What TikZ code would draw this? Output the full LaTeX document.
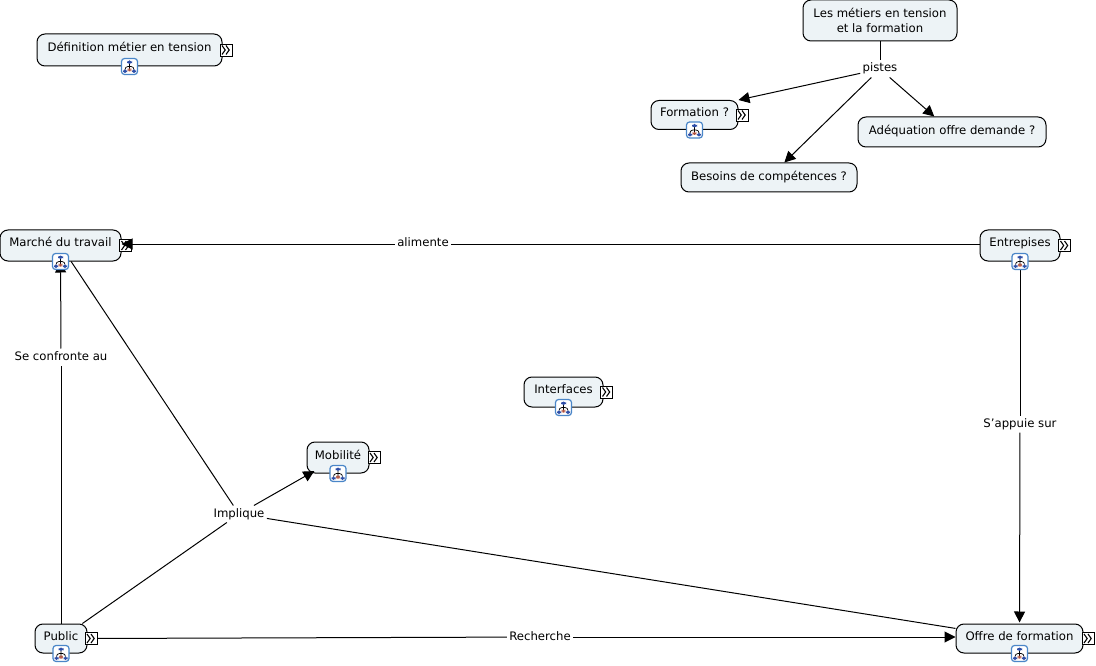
\documentclass[tikz,border=0pt]{standalone}
\usepackage{fontspec}
\setmainfont{DejaVu Sans}
\usetikzlibrary{arrows.meta}
\definecolor{boxfill}{HTML}{EDF3F6}
\definecolor{iconblue}{HTML}{4A86C8}
\definecolor{treeblue}{HTML}{2F4FA8}
\definecolor{treered}{HTML}{B0503C}
\begin{document}
\begin{tikzpicture}[x=1pt,y=-1pt,>={Triangle[length=11pt,width=11pt]},line width=1pt,
  font=\fontsize{11.7}{15}\selectfont,
  concept/.style={draw,rounded corners=8pt,fill=boxfill,inner sep=0pt,text height=9pt,text depth=3pt},
  conceptmap/.style={concept,text depth=6pt},
  linklabel/.style={inner sep=2pt,text height=9pt,text depth=3pt},
  expandicon/.style={draw,fill=white,minimum size=12pt,inner sep=0pt,line width=0.8pt,path picture={
    \draw[line width=1.1pt,shift={(path picture bounding box.center)}]
      (-4,-4.5) -- (-0.8,0) -- (-4,4.5) (0,-4.5) -- (3.2,0) -- (0,4.5);}},
  mapicon/.style={draw=iconblue,fill=white,rounded corners=3pt,minimum size=16pt,inner sep=0pt,line width=1.2pt,path picture={
    \begin{scope}[shift={(path picture bounding box.center)}]
     \draw[line width=0.7pt,black] (0,-3) -- (0,3) (-4.5,3) -- (-4.5,0) -- (4.5,0) -- (4.5,3);
     \fill[treeblue] (-2.5,-6) rectangle (2.5,-2.5);
     \fill[treeblue] (-6.5,3) rectangle (-2.5,6.5);
     \fill[treered] (-1.8,2) rectangle (1.8,5);
     \fill[treeblue] (2.5,3) rectangle (6.5,6.5);
    \end{scope}}}]
 \useasboundingbox (0,0) rectangle (1096,666);
 % concepts
 \node[concept,minimum width=154pt,minimum height=41pt,align=center,text height=,text depth=] (metiers) at (880,20.5) {Les métiers en tension\\et la formation};
 \node[conceptmap,minimum width=185pt,minimum height=32pt] (definition) at (129.5,50) {Définition métier en tension};
 \node[conceptmap,minimum width=87pt,minimum height=29pt] (formation) at (694.5,115) {Formation ?};
 \node[concept,minimum width=176pt,minimum height=29pt] (besoins) at (769,177.5) {Besoins de compétences ?};
 \node[concept,minimum width=188pt,minimum height=30pt] (adequation) at (952,132) {Adéquation offre demande ?};
 \node[conceptmap,minimum width=121pt,minimum height=31pt] (marche) at (60.5,245.5) {Marché du travail};
 \node[conceptmap,minimum width=80pt,minimum height=31pt] (entreprises) at (1020,245.5) {Entrepises};
 \node[conceptmap,minimum width=79pt,minimum height=30pt] (interfaces) at (563.5,392) {Interfaces};
 \node[conceptmap,minimum width=62pt,minimum height=31pt] (mobilite) at (338,457.5) {Mobilité};
 \node[conceptmap,minimum width=52pt,minimum height=29pt] (public) at (61,638.5) {Public};
 \node[conceptmap,minimum width=127pt,minimum height=29pt] (offre) at (1019.5,638.5) {Offre de formation};
 % expand icons
 \node[expandicon] (definitionx) at ([xshift=3.5pt]definition.east) {};
 \node[expandicon] (formationx) at ([xshift=3.5pt]formation.east) {};
 \node[expandicon] (marchex) at ([xshift=4pt]marche.east) {};
 \node[expandicon] (entreprisesx) at ([xshift=4pt]entreprises.east) {};
 \node[expandicon] (interfacesx) at ([xshift=3pt]interfaces.east) {};
 \node[expandicon] (mobilitex) at ([xshift=4.5pt]mobilite.east) {};
 \node[expandicon] (publicx) at ([xshift=3.5pt]public.east) {};
 \node[expandicon] (offrex) at ([xshift=4.5pt]offre.east) {};
 % link labels
 \node[linklabel] (pistes) at (880,69) {pistes};
 \node[linklabel] (alimente) at (423,244) {alimente};
 \node[linklabel] (confronte) at (61,357) {Se confronte au};
 \node[linklabel] (appuie) at (1020,424) {S'appuie sur};
 \node[linklabel] (implique) at (239,514) {Implique};
 \node[linklabel] (recherche) at (540,637) {Recherche};
 % links
 \draw (metiers) -- (pistes);
 \draw[->] (pistes) -- (formation.north east);
 \draw[->] (pistes) -- (besoins);
 \draw[->] (pistes) -- (adequation);
 \draw[->] (alimente) -- (alimente -| marche.east);
 \draw (alimente) -- (alimente -| entreprises.west);
 \draw (public) -- (confronte);
 \draw[->] (confronte) -- (marche);
 \draw (entreprises) -- (appuie);
 \draw[->,shorten >=1pt] (appuie) -- (offre);
 \draw (publicx) -- (recherche);
 \draw[->] (recherche) -- (recherche -| offre.west);
 \draw (marche) -- (implique);
 \draw (public) -- (implique);
 \draw (implique) -- (offre);
 \draw[->,shorten >=-5pt] (implique) -- (mobilite);
 % map icons
 \node[mapicon] (definitionm) at (definition.south) {};
 \node[mapicon] (formationm) at (formation.south) {};
 \node[mapicon] (marchem) at (marche.south) {};
 \node[mapicon] (entreprisesm) at (entreprises.south) {};
 \node[mapicon] (interfacesm) at (interfaces.south) {};
 \node[mapicon] (mobilitem) at (mobilite.south) {};
 \node[mapicon] (publicm) at (public.south) {};
 \node[mapicon] (offrem) at (offre.south) {};
\end{tikzpicture}
\end{document}
